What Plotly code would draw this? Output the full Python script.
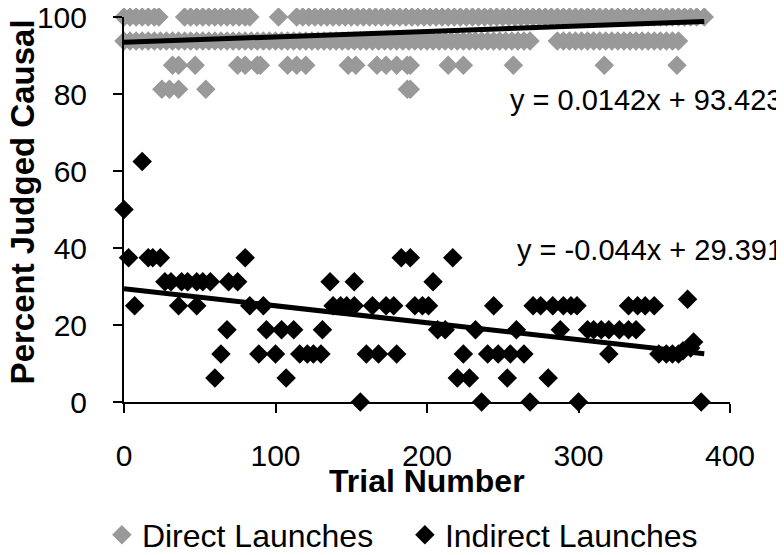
import plotly.graph_objects as go

# Direct launches: percent judged causal by trial
direct_x_100 = [0, 4, 8, 12, 16, 20, 23, 40, 44, 48, 52, 56, 60, 64, 68, 72, 76, 80, 83, 102,
                114, 118, 122, 126, 130, 134, 138, 142, 146, 150, 154, 158, 162, 166, 170, 174,
                178, 182, 186, 190, 194, 198, 202, 206, 210, 214, 218, 222, 226, 230, 234, 238,
                242, 246, 250, 254, 258, 262, 266, 270, 274, 278, 282, 286, 290, 294, 298, 302,
                306, 310, 314, 318, 322, 326, 330, 334, 338, 342, 346, 350, 354, 358, 362, 366,
                370, 374, 378, 383]
direct_x_94 = [0, 4, 8, 12, 16, 20, 24, 28, 32, 36, 40, 44, 48, 52, 56, 60, 64, 68, 72, 76, 80,
               84, 88, 92, 96, 100, 104, 108, 112, 116, 120, 124, 128, 132, 136, 140, 144, 148,
               152, 156, 160, 164, 168, 172, 176, 180, 184, 188, 192, 196, 200, 204, 208, 212,
               216, 220, 224, 228, 232, 236, 240, 244, 248, 252, 256, 260, 264, 268, 286, 290,
               294, 298, 302, 306, 310, 314, 318, 322, 326, 330, 334, 338, 342, 346, 350, 354,
               358, 362, 366]
direct_x_88 = [32, 36, 47, 75, 80, 88, 90, 108, 114, 120, 148, 153, 167, 173, 180, 187, 189,
               214, 224, 257, 317, 365]
direct_x_81 = [25, 30, 36, 54, 187, 189]

direct_x = direct_x_100 + direct_x_94 + direct_x_88 + direct_x_81
direct_y = ([100] * len(direct_x_100) + [93.75] * len(direct_x_94)
            + [87.5] * len(direct_x_88) + [81.25] * len(direct_x_81))

# Indirect launches
indirect_x = [0, 3, 12, 7, 16, 19, 24, 27, 31, 36, 38, 42, 48, 48, 52, 57, 60, 64, 68, 69, 75,
              80, 83, 89, 92, 94, 100, 104, 107, 112, 116, 121, 125, 130, 131, 136, 138, 143,
              147, 152, 152, 156, 160, 164, 168, 173, 178, 180, 183, 189, 192, 197, 201, 204,
              207, 212, 217, 220, 224, 228, 232, 236, 240, 244, 247, 253, 255, 259, 264, 268,
              270, 275, 280, 283, 288, 290, 295, 299, 300, 306, 310, 315, 320, 320, 327, 333,
              333, 338, 339, 344, 350, 353, 358, 362, 366, 369, 372, 374, 376, 381]
indirect_y = [50, 37.5, 62.5, 25, 37.5, 37.5, 37.5, 31.25, 31.25, 25, 31.25, 31.25, 31.25, 25,
              31.25, 31.25, 6.25, 12.5, 18.75, 31.25, 31.25, 37.5, 25, 12.5, 25, 18.75, 12.5,
              18.75, 6.25, 18.75, 12.5, 12.5, 12.5, 12.5, 18.75, 31.25, 25, 25, 25, 25, 31.25,
              0, 12.5, 25, 12.5, 25, 25, 12.5, 37.5, 37.5, 25, 25, 25, 31.25, 18.75, 18.75,
              37.5, 6.25, 12.5, 6.25, 18.75, 0, 12.5, 25, 12.5, 6.25, 12.5, 18.75, 12.5, 0,
              25, 25, 6.25, 25, 18.75, 25, 25, 25, 0, 18.75, 18.75, 18.75, 18.75, 12.5, 18.75,
              18.75, 25, 18.75, 25, 25, 25, 12.5, 12.5, 12.5, 12.5, 13.3, 26.7, 14.0, 15.6, 0]

# Linear fits as printed on the chart
fit_x = [0, 383]
direct_slope, direct_icpt = 0.0142, 93.423
indirect_slope, indirect_icpt = -0.044, 29.391

FONT = "Liberation Sans, Arial, sans-serif"

fig = go.Figure()
fig.add_trace(go.Scatter(x=direct_x, y=direct_y, mode="markers", name="Direct Launches",
                         marker=dict(symbol="diamond", size=15, color="#999999"),
                         cliponaxis=False))
fig.add_trace(go.Scatter(x=indirect_x, y=indirect_y, mode="markers", name="Indirect Launches",
                         marker=dict(symbol="diamond", size=15, color="#000000"),
                         cliponaxis=False))
fig.add_trace(go.Scatter(x=fit_x, y=[direct_slope * v + direct_icpt for v in fit_x],
                         mode="lines", line=dict(color="black", width=5), showlegend=False,
                         cliponaxis=False))
fig.add_trace(go.Scatter(x=fit_x, y=[indirect_slope * v + indirect_icpt for v in fit_x],
                         mode="lines", line=dict(color="black", width=5), showlegend=False,
                         cliponaxis=False))

fig.add_annotation(x=253.5, y=78.5, text="y = 0.0142x + 93.423", showarrow=False,
                   xanchor="left", yanchor="middle", font=dict(size=29, color="black"))
fig.add_annotation(x=258, y=39.5, text="y = -0.044x + 29.391", showarrow=False,
                   xanchor="left", yanchor="middle", font=dict(size=29, color="black"))

# axis titles placed as annotations so they sit where the original has them
fig.add_annotation(xref="paper", yref="paper", x=0.5, y=-0.205, text="<b>Trial Number</b>",
                   showarrow=False, xanchor="center", yanchor="middle",
                   font=dict(size=32, color="black"))
fig.add_annotation(xref="paper", yref="paper", x=-0.168, y=0.519,
                   text="<b>Percent Judged Causal</b>", textangle=-90, showarrow=False,
                   xanchor="center", yanchor="middle", font=dict(size=33, color="black"))

# the page body adds an 8px margin, so the figure is 8px smaller and shifted back
fig.update_layout(
    width=776, height=547,
    margin=dict(l=116, r=54, t=9, b=153),
    paper_bgcolor="white", plot_bgcolor="white",
    font=dict(family=FONT, size=30, color="black"),
    legend=dict(orientation="h", xref="container", yref="container",
                x=0.121, xanchor="left", y=0.0366, yanchor="middle",
                font=dict(size=32), itemsizing="trace", entrywidth=258,
                entrywidthmode="pixels"),
)
fig.update_xaxes(range=[0, 400], tickvals=[0, 100, 200, 300, 400], showgrid=False,
                 zeroline=False, showline=True, linecolor="black", linewidth=2,
                 ticks="outside", ticklen=9, tickwidth=2, tickcolor="black",
                 tickfont=dict(size=30), ticklabelstandoff=17, automargin=False,
                 ticklabeloverflow="allow")
fig.update_yaxes(range=[0, 100], tickvals=[0, 20, 40, 60, 80, 100], showgrid=False,
                 zeroline=False, showline=True, linecolor="black", linewidth=2,
                 ticks="outside", ticklen=9, tickwidth=2, tickcolor="black",
                 tickfont=dict(size=30), ticklabelstandoff=20, automargin=False,
                 ticklabeloverflow="allow")

fig.write_html("out.html")
